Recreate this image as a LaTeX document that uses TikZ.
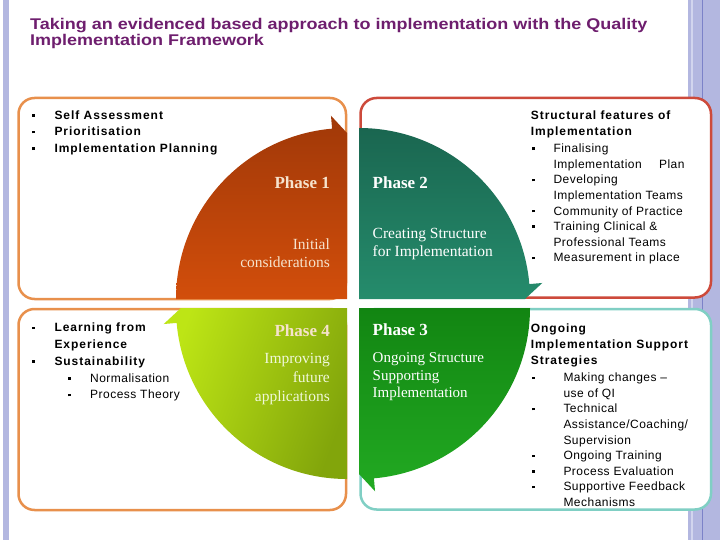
\documentclass[tikz,border=0pt]{standalone}
\usepackage{fontspec}
\setmainfont{Liberation Serif}
\setsansfont{Liberation Sans}[LetterSpace=4,BoldFeatures={LetterSpace=8}]
\newfontfamily\titlefont{Liberation Sans}[FakeStretch=1.16]
\usepackage{tikz}
\usepackage{xcolor}

\definecolor{lavender}{HTML}{B3B7E0}
\definecolor{lavdark}{HTML}{7C82C8}
\definecolor{lavlight}{HTML}{D2D5EE}
\definecolor{titlepurple}{HTML}{6E1E6E}
\definecolor{boxorange}{HTML}{E8904C}
\definecolor{boxred}{HTML}{CD4A3B}
\definecolor{boxteal}{HTML}{80CFC4}
\definecolor{ponetop}{HTML}{A03808}
\definecolor{ponebot}{HTML}{D24E0B}
\definecolor{ptwotop}{HTML}{1A6650}
\definecolor{ptwobot}{HTML}{258C6C}
\definecolor{pthreetop}{HTML}{128512}
\definecolor{pthreebot}{HTML}{22AA22}
\definecolor{pfourlight}{HTML}{BDE515}
\definecolor{pfourdark}{HTML}{82A50B}
\definecolor{cream}{HTML}{F6E3CD}
\definecolor{palelime}{HTML}{F0F8DA}

\newcommand{\sqbul}{\rule[2.6pt]{2.6pt}{2.6pt}}
\newcommand{\quadrant}[3]{%
  \path[#3,shift={(#1)}] (0,0) -- (#2:171) arc[start angle=#2,end angle=#2+85,radius=171]
    -- (#2+85:184) -- (#2+90:166) -- cycle;}

\begin{document}
\begin{tikzpicture}[x=1pt,y=-1pt,
    box/.style={line width=2.5pt,rounded corners=16pt,fill=white},
    titletext/.style={inner sep=0pt,anchor=base west,text=titlepurple,
      font=\titlefont\bfseries\fontsize{15.5}{16.7}\selectfont},
    list/.style={inner sep=0pt,anchor=base west,font=\sffamily\fontsize{12}{15.6}\selectfont},
    boldlist/.style={inner sep=0pt,anchor=base west,font=\sffamily\bfseries\fontsize{12}{16.7}\selectfont},
    phase/.style={inner sep=0pt,font=\bfseries\fontsize{17}{18}\selectfont},
    phasetext/.style={inner sep=0pt,font=\fontsize{15.5}{18.4}\selectfont}]
  \useasboundingbox (0,0) rectangle (720,540);
  \fill[white] (0,0) rectangle (720,540);
  \fill[lavender] (3,0) rectangle (9,540);
  \fill[lavender] (688,0) rectangle (720,540);
  \fill[lavlight] (691,0) rectangle (693,540);
  \fill[lavdark] (702,0) rectangle (703,540);

  \draw[box,draw=boxorange] (18.5,98) rectangle (346,299);
  \draw[box,draw=boxred] (360.5,98) rectangle (711,297.5);
  \draw[box,draw=boxorange] (18.5,309) rectangle (346,510);
  \draw[box,draw=boxteal] (360.5,309) rectangle (711,509.5);

  \coordinate (c1) at (347,299);
  \coordinate (c2) at (359,299);
  \coordinate (c3) at (359,308);
  \coordinate (c4) at (347,308);
  \quadrant{c1}{180}{top color=ponetop,bottom color=ponebot}
  \quadrant{c2}{270}{top color=ptwotop,bottom color=ptwobot}
  \quadrant{c3}{0}{top color=pthreetop,bottom color=pthreebot}
  \quadrant{c4}{90}{left color=pfourlight,right color=pfourdark,shading angle=70}

  \node[titletext] (title) at (30,29.3) {\begin{tabular}[t]{@{}l@{}}
    Taking an evidenced based approach to implementation with the Quality\\
    Implementation Framework\end{tabular}};

  \node[boldlist] (assess) at (32,119.3) {\begin{tabular}[t]{@{}p{22.3pt}@{}l@{}}
    \sqbul & Self Assessment\\
    \sqbul & Prioritisation\\
    \sqbul & Implementation Planning\end{tabular}};

  \node[phase,text=cream,anchor=base east] (phase1) at (330,189) {Phase 1};
  \node[phasetext,text=cream,anchor=base east] (initial) at (330,249.3) {\begin{tabular}[t]{@{}r@{}}
    Initial\\considerations\end{tabular}};

  \node[phase,text=white,anchor=base west] (phase2) at (372.5,189) {Phase 2};
  \node[phasetext,text=white,anchor=base west] (creating) at (372.5,238.3) {\begin{tabular}[t]{@{}l@{}}
    Creating Structure\\for Implementation\end{tabular}};

  \node[boldlist] (structural) at (530.7,119.3) {\begin{tabular}[t]{@{}l@{}}
    Structural features of\\Implementation\end{tabular}};
  \node[list] (features) at (532,152.7) {\begin{tabular}[t]{@{}p{21.3pt}@{}l@{}}
    \sqbul & Finalising\\
           & \makebox[131pt][l]{Implementation\hfill Plan}\\
    \sqbul & Developing\\
           & Implementation Teams\\
    \sqbul & Community of Practice\\
    \sqbul & Training Clinical \&\\
           & Professional Teams\\
    \sqbul & Measurement in place\end{tabular}};

  \node[boldlist,font=\sffamily\bfseries\fontsize{12}{16.8}\selectfont] (learning) at (32,331.7) {\begin{tabular}[t]{@{}p{22.3pt}@{}l@{}}
    \sqbul & Learning from\\
           & Experience\\
    \sqbul & Sustainability\\
           & \mdseries\hspace{13.7pt}\makebox[22pt][l]{\sqbul}Normalisation\\
           & \mdseries\hspace{13.7pt}\makebox[22pt][l]{\sqbul}Process Theory\end{tabular}};

  \node[phase,text=cream,anchor=base east] (phase4) at (330,336) {Phase 4};
  \node[phasetext,text=palelime,anchor=base east,font=\fontsize{15.5}{19.2}\selectfont] (improving) at (330,363.3) {\begin{tabular}[t]{@{}r@{}}
    Improving\\future\\applications\end{tabular}};

  \node[phase,text=white,anchor=base west] (phase3) at (372.5,335.7) {Phase 3};
  \node[phasetext,text=white,anchor=base west,font=\fontsize{15}{17.3}\selectfont] (supporting) at (372.5,362.7) {\begin{tabular}[t]{@{}l@{}}
    Ongoing Structure\\Supporting\\Implementation\end{tabular}};

  \node[boldlist,font=\sffamily\bfseries\fontsize{12}{16}\selectfont] (ongoing) at (530.7,332.3) {\begin{tabular}[t]{@{}l@{}}
    Ongoing\\Implementation Support\\Strategies\end{tabular}};
  \node[list] (strategies) at (532,381.7) {\begin{tabular}[t]{@{}p{31.3pt}@{}l@{}}
    \sqbul & Making changes --\\
           & use of QI\\
    \sqbul & Technical\\
           & Assistance/Coaching/\\
           & Supervision\\
    \sqbul & Ongoing Training\\
    \sqbul & Process Evaluation\\
    \sqbul & Supportive Feedback\\
           & Mechanisms\end{tabular}};
\end{tikzpicture}
\end{document}
